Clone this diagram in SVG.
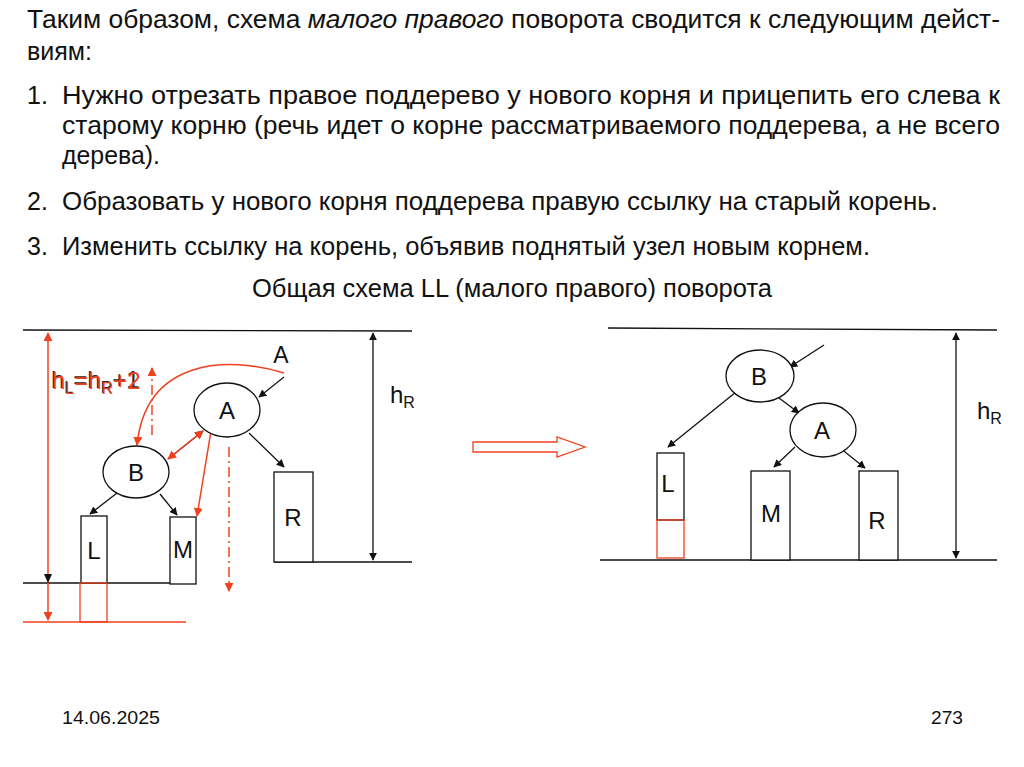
<svg xmlns="http://www.w3.org/2000/svg" width="1024" height="767" viewBox="0 0 1024 767">
<style>
.t{font-family:"Liberation Sans",Arial,sans-serif;font-size:25px;fill:#111}
.lbl{font-family:"Liberation Sans",Arial,sans-serif;font-size:24px;fill:#111}
.sub{font-size:16px}
.k{stroke:#111;stroke-width:1.3;fill:none}
.r{stroke:#F0401E;stroke-width:1.5;fill:none}
.box{stroke:#111;stroke-width:1.3;fill:#fff}
.rbox{stroke:#F0401E;stroke-width:1.3;fill:none}
.ell{stroke:#111;stroke-width:1.3;fill:#fff}
.dd{stroke:#F0401E;stroke-width:1.5;fill:none;stroke-dasharray:10 4 2 4}
</style>
<defs>
<marker id="ak" viewBox="0 0 10 10" refX="9" refY="5" markerWidth="8" markerHeight="8" orient="auto-start-reverse" markerUnits="userSpaceOnUse"><path d="M0,0 L10,5 L0,10 z" fill="#111"/></marker>
<marker id="ar" viewBox="0 0 10 10" refX="9" refY="5" markerWidth="9" markerHeight="9" orient="auto-start-reverse" markerUnits="userSpaceOnUse"><path d="M0,0 L10,5 L0,10 z" fill="#F0401E"/></marker>
</defs>
<rect width="1024" height="767" fill="#fff"/>
<g id="text">
<text class="t" x="27" y="28" textLength="973" lengthAdjust="spacingAndGlyphs">Таким образом, схема <tspan font-style="italic">малого правого</tspan> поворота сводится  к следующим дейст-</text>
<text class="t" x="27" y="60" textLength="65" lengthAdjust="spacingAndGlyphs">виям:</text>
<text class="t" x="27" y="104">1.</text>
<text class="t" x="62" y="104" textLength="938" lengthAdjust="spacingAndGlyphs">Нужно отрезать правое поддерево у нового корня и прицепить его слева к</text>
<text class="t" x="62" y="134" textLength="938" lengthAdjust="spacingAndGlyphs">старому корню (речь идет о корне рассматриваемого поддерева, а не всего</text>
<text class="t" x="62" y="164" textLength="98" lengthAdjust="spacingAndGlyphs">дерева).</text>
<text class="t" x="27" y="210">2.</text>
<text class="t" x="62" y="210" textLength="876" lengthAdjust="spacingAndGlyphs">Образовать у  нового корня поддерева правую ссылку на старый корень.</text>
<text class="t" x="27" y="255">3.</text>
<text class="t" x="62" y="255" textLength="808" lengthAdjust="spacingAndGlyphs">Изменить ссылку на корень, объявив поднятый узел новым корнем.</text>
<text class="t" x="252" y="297" textLength="520" lengthAdjust="spacingAndGlyphs">Общая схема LL (малого правого) поворота</text>
<text class="t" x="62" y="724" style="font-size:18px" textLength="98" lengthAdjust="spacingAndGlyphs">14.06.2025</text>
<text class="t" x="931" y="724" style="font-size:18px" textLength="32" lengthAdjust="spacingAndGlyphs">273</text>
</g>
<g id="connectors">
<line class="k" x1="23" y1="330" x2="412" y2="331"/>
<line class="k" x1="23" y1="583" x2="188" y2="583"/>
<line class="r" x1="23" y1="622" x2="186" y2="622"/>
<line class="k" x1="274" y1="562" x2="412" y2="562"/>
<line class="r" x1="48" y1="333" x2="48" y2="620" marker-start="url(#ar)" marker-end="url(#ar)"/>
<path d="M44,574 L48,583 L52,574 z" fill="#111"/>
<line class="k" x1="373" y1="333" x2="373" y2="560" marker-start="url(#ak)" marker-end="url(#ak)"/>
<line class="k" x1="284" y1="377" x2="259" y2="397" marker-end="url(#ak)"/>
<line class="k" x1="249" y1="433" x2="284" y2="467" marker-end="url(#ak)"/>
<line class="k" x1="117" y1="493" x2="90" y2="514" marker-end="url(#ak)"/>
<line class="k" x1="160" y1="494" x2="177" y2="515" marker-end="url(#ak)"/>
<line class="k" x1="168" y1="459" x2="203" y2="431" marker-end="url(#ak)"/>
<line class="r" x1="168" y1="459" x2="203" y2="431" marker-start="url(#ar)" marker-end="url(#ar)"/>
<line class="r" x1="211" y1="431" x2="197" y2="516" marker-end="url(#ar)"/>
<path class="r" d="M284,373 C228,356 146,358 137,445" marker-end="url(#ar)"/>
<line class="dd" x1="152" y1="435" x2="152" y2="368" marker-end="url(#ar)"/>
<line class="dd" x1="229" y1="447" x2="229" y2="591" marker-end="url(#ar)"/>
<polygon points="473,442 557,442 557,437 585,447 557,457 557,452 473,452" fill="#fff" stroke="#F0401E" stroke-width="1.3"/>
<line class="k" x1="608" y1="328" x2="997" y2="330"/>
<line class="k" x1="600" y1="560" x2="997" y2="560"/>
<line class="k" x1="956" y1="333" x2="956" y2="558" marker-start="url(#ak)" marker-end="url(#ak)"/>
<line class="k" x1="824" y1="345" x2="790" y2="367" marker-end="url(#ak)"/>
<line class="k" x1="736" y1="392" x2="668" y2="447" marker-end="url(#ak)"/>
<line class="k" x1="775" y1="395" x2="799" y2="413" marker-end="url(#ak)"/>
<line class="k" x1="795" y1="447" x2="774" y2="467" marker-end="url(#ak)"/>
<line class="k" x1="840" y1="448" x2="865" y2="468" marker-end="url(#ak)"/>
</g>
<g id="left-A"><ellipse class="ell" cx="227" cy="410" rx="33" ry="27"/><text class="lbl" x="227" y="419" text-anchor="middle">A</text></g>
<g id="left-B"><ellipse class="ell" cx="136" cy="472" rx="33" ry="26"/><text class="lbl" x="136" y="481" text-anchor="middle">B</text></g>
<g id="left-L"><rect class="box" x="81" y="516" width="26" height="67"/><text class="lbl" x="94" y="559" text-anchor="middle">L</text></g>
<g id="left-L-ext"><rect class="rbox" x="80" y="583" width="27" height="39"/></g>
<g id="left-M"><rect class="box" x="170" y="517" width="26" height="67"/><text class="lbl" x="183" y="558" text-anchor="middle">M</text></g>
<g id="left-R"><rect class="box" x="274" y="472" width="39" height="90"/><text class="lbl" x="293" y="526" text-anchor="middle">R</text></g>
<g id="left-labels">
<text class="lbl" x="281" y="363" text-anchor="middle" style="font-size:23px">A</text>
<text class="lbl" x="390" y="403">h<tspan class="sub" dy="5">R</tspan></text>
<text class="lbl" x="51" y="388" style="fill:#2a2a2a">h<tspan class="sub" dy="5">L</tspan><tspan dy="-5">=h</tspan><tspan class="sub" dy="5">R</tspan><tspan dy="-5">+1</tspan></text>
<text class="lbl" x="52" y="389" style="fill:#F0401E">h<tspan class="sub" dy="5">L</tspan><tspan dy="-5">=h</tspan><tspan class="sub" dy="5">R</tspan><tspan dy="-5">+2</tspan></text>
</g>
<g id="right-B"><ellipse class="ell" cx="760" cy="376" rx="34" ry="26"/><text class="lbl" x="759" y="385" text-anchor="middle">B</text></g>
<g id="right-A"><ellipse class="ell" cx="823" cy="430" rx="33" ry="27"/><text class="lbl" x="822" y="439" text-anchor="middle">A</text></g>
<g id="right-L"><rect class="box" x="657" y="453" width="27" height="67"/><text class="lbl" x="668" y="492" text-anchor="middle">L</text></g>
<g id="right-L-ext"><rect class="rbox" x="657" y="520" width="27" height="38"/></g>
<g id="right-M"><rect class="box" x="751" y="471" width="39" height="89"/><text class="lbl" x="771" y="522" text-anchor="middle">M</text></g>
<g id="right-R"><rect class="box" x="859" y="471" width="39" height="89"/><text class="lbl" x="877" y="529" text-anchor="middle">R</text></g>
<g id="right-labels"><text class="lbl" x="977" y="419">h<tspan class="sub" dy="5">R</tspan></text></g>
</svg>
